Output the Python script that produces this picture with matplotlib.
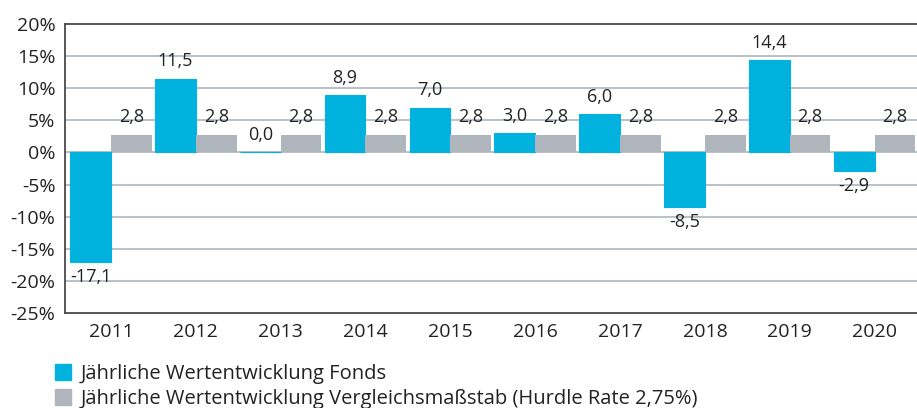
import numpy as np
import matplotlib.pyplot as plt
from matplotlib.patches import Patch

plt.rcParams['font.family'] = ['Open Sans', 'DejaVu Sans']

# data
years = ['2011', '2012', '2013', '2014', '2015', '2016', '2017', '2018', '2019', '2020']
fonds = [-17.1, 11.5, 0.0, 8.9, 7.0, 3.0, 6.0, -8.5, 14.4, -2.9]
hurdle = [2.75] * 10
label_fonds = 'Jährliche Wertentwicklung Fonds'
label_hurdle = 'Jährliche Wertentwicklung Vergleichsmaßstab (Hurdle Rate 2,75%)'

blue = '#00B2DD'
grey = '#AEB5BC'
txt = '#222222'

fig = plt.figure(figsize=(9.17, 4.08), dpi=100)
ax = fig.add_axes([0.071, 0.233, 0.929, 0.708])

x = np.arange(len(years))
w = 0.48
b1 = ax.bar(x - w / 2, fonds, w, color=blue, edgecolor=blue, linewidth=0.8, zorder=3)
b2 = ax.bar(x + w / 2, hurdle, w, color=grey, linewidth=0, zorder=3)

def fmt(v):
    return f'{v:.1f}'.replace('.', ',')

for bars, vals in ((b1, fonds), (b2, hurdle)):
    for r, v in zip(bars, vals):
        cx = r.get_x() + r.get_width() / 2
        if v >= 0:
            ax.annotate(fmt(v), (cx, v), xytext=(0, 6), textcoords='offset points',
                        ha='center', va='bottom', fontsize=13, color=txt)
        else:
            ax.annotate(fmt(v), (cx, v), xytext=(0, -4), textcoords='offset points',
                        ha='center', va='top', fontsize=13, color=txt)

ax.set_ylim(-25, 20)
ax.set_xlim(-0.54, len(years) - 0.5)
ax.set_yticks(np.arange(-25, 21, 5))
ax.set_yticklabels([f'{t}%' for t in range(-25, 21, 5)])
ax.set_xticks(x)
ax.set_xticklabels(years)
ax.tick_params(length=0, labelsize=14, colors=txt, pad=7)
ax.tick_params(axis='y', pad=7)

for t in range(-20, 20, 5):
    ax.axhline(t, color='#B3BBC3', lw=1.3, zorder=1)

for s in ('top', 'left', 'bottom'):
    ax.spines[s].set_color('#4A4A4A')
    ax.spines[s].set_linewidth(1.3)
ax.spines['right'].set_visible(False)

handles = [Patch(color=blue), Patch(color=grey)]
fig.legend(handles, [label_fonds, label_hurdle], loc='upper left',
           bbox_to_anchor=(0.060, 0.108), frameon=False, fontsize=14.5,
           handlelength=0.8, handleheight=0.8, handletextpad=0.45,
           labelspacing=0.25, labelcolor=txt, borderpad=0, borderaxespad=0)

fig.savefig('out.png', dpi=100)
